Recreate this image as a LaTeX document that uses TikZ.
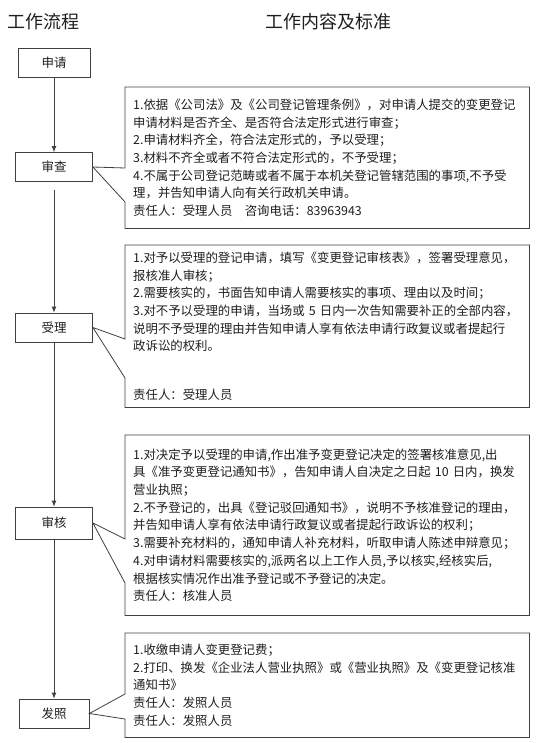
\documentclass[tikz,border=0pt]{standalone}
\usepackage{fontspec}
\setmainfont{Noto Sans CJK SC}
\usetikzlibrary{arrows.meta}

\definecolor{linegray}{HTML}{404040}
\definecolor{textgray}{HTML}{1E1E1E}

\begin{document}
\begin{tikzpicture}[x=1pt, y=-1pt, >={Latex[length=6pt,width=5pt]},
    stepbox/.style={draw=linegray, line width=0.8pt, minimum width=77pt, minimum height=29pt,
        inner sep=0pt, text=textgray, font=\fontsize{12.5}{14}\selectfont},
    notebox/.style={anchor=north west, align=left, text width=388pt, inner xsep=8pt,
        inner ysep=0pt, minimum width=404pt, text=textgray, font=\fontsize{12.4}{17.7}\selectfont},
    callout/.style={draw=linegray, line width=0.8pt},
    flow/.style={->, draw=linegray, line width=0.8pt},
    title/.style={text=textgray, font=\fontsize{18}{20}\selectfont}]
    \useasboundingbox (0,0) rectangle (550,743);

    \node[title] (flowtitle) at (43,22) {工作流程};
    \node[title] (stdtitle) at (328,22) {工作内容及标准};

    % steps
    \node[stepbox, minimum width=72pt] (sq) at (54,63) {申请};
    \node[stepbox] (sc) at (54,167) {审查};
    \node[stepbox] (sl) at (54,327.5) {受理};
    \node[stepbox, minimum height=32pt] (sh) at (54,523) {审核};
    \node[stepbox, minimum width=70pt] (fz) at (54,713.5) {发照};

    \draw[flow] (sq) -- (sc);
    \draw[flow, shorten <=8pt] (sc) -- (sl);
    \draw[flow] (sl) -- (sh);
    \draw[flow] (sh) -- (fz);

    % notes
    \node[notebox, minimum height=141pt] (scnote) at (125,87) {1.依据《公司法》及《公司登记管理条例》，对申请人提交的变更登记\\
        申请材料是否齐全、是否符合法定形式进行审查；\\
        2.申请材料齐全，符合法定形式的，予以受理；\\
        3.材料不齐全或者不符合法定形式的，不予受理；\\
        4.不属于公司登记范畴或者不属于本机关登记管辖范围的事项,不予受\\
        理，并告知申请人向有关行政机关申请。\\
        责任人：受理人员　咨询电话：83963943};
    \node[notebox, minimum height=162pt] (slnote) at (125,245) {1.对予以受理的登记申请，填写《变更登记审核表》，签署受理意见，\\
        报核准人审核；\\
        2.需要核实的，书面告知申请人需要核实的事项、理由以及时间；\\
        3.对不予以受理的申请，当场或 5 日内一次告知需要补正的全部内容，\\
        说明不予受理的理由并告知申请人享有依法申请行政复议或者提起行\\
        政诉讼的权利。\\[31pt]
        责任人：受理人员};
    \node[notebox, minimum height=180pt] (shnote) at (125,435) {1.对决定予以受理的申请,作出准予变更登记决定的签署核准意见,出\\
        具《准予变更登记通知书》，告知申请人自决定之日起 10 日内，换发\\
        营业执照；\\
        2.不予登记的，出具《登记驳回通知书》，说明不予核准登记的理由，\\
        并告知申请人享有依法申请行政复议或者提起行政诉讼的权利；\\
        3.需要补充材料的，通知申请人补充材料，听取申请人陈述申辩意见；\\
        4.对申请材料需要核实的,派两名以上工作人员,予以核实,经核实后,\\
        根据核实情况作出准予登记或不予登记的决定。\\
        责任人：核准人员};
    \node[notebox, minimum height=104pt] (fznote) at (125,633) {1.收缴申请人变更登记费；\\
        2.打印、换发《企业法人营业执照》或《营业执照》及《变更登记核准\\
        通知书》\\
        责任人：发照人员\\
        责任人：发照人员};

    \draw[callout] (scnote.north west) -- (scnote.north east) -- (scnote.south east) -- (scnote.south west)
        -- (scnote.west |- 0,202) -- (sc.east) -- (scnote.west |- 0,168) -- cycle;
    \draw[callout] (slnote.north west) -- (slnote.north east) -- (slnote.south east) -- (slnote.south west)
        -- (slnote.west |- 0,378) -- (sl.east) -- (slnote.west |- 0,339) -- cycle;
    \draw[callout] (shnote.north west) -- (shnote.north east) -- (shnote.south east) -- (shnote.south west)
        -- (shnote.west |- 0,583) -- (sh.east) -- (shnote.west |- 0,539) -- cycle;
    \draw[callout] (fznote.north west) -- (fznote.north east) -- (fznote.south east) -- (fznote.south west)
        -- (fznote.west |- 0,719) -- (fz.east) -- (fznote.west |- 0,694) -- cycle;
\end{tikzpicture}
\end{document}
